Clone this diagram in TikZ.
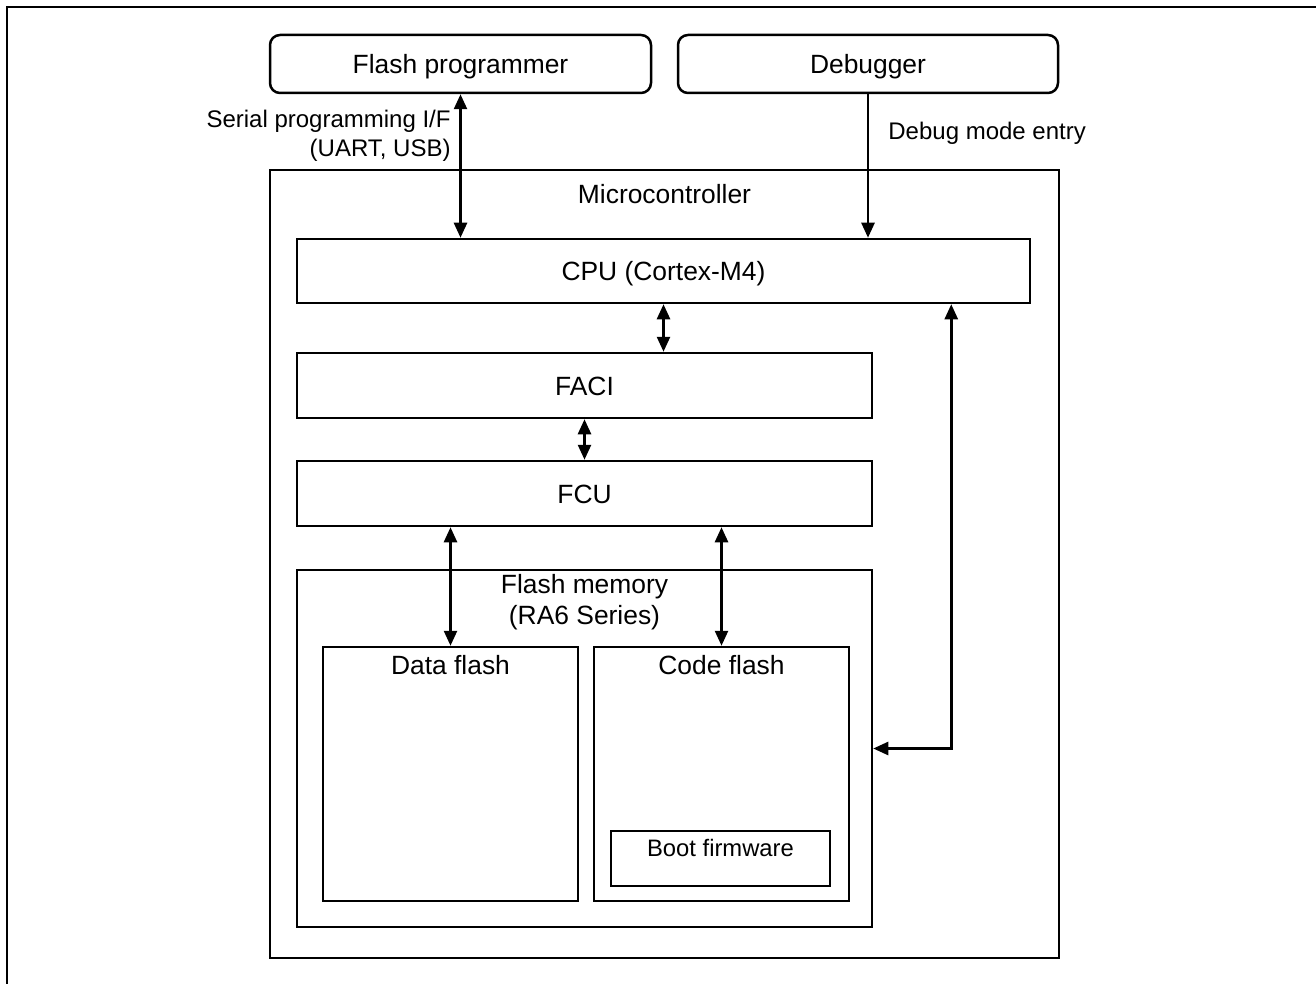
\documentclass[tikz,border=0pt]{standalone}
\usepackage{fontspec}
\setmainfont{Liberation Sans}
\usepackage{tikz}
\usetikzlibrary{arrows.meta}
\tikzset{>={Triangle[width=6.5pt,length=7.5pt]}}
\tikzstyle{blk} = [rectangle, draw=black, line width=1.25pt, inner sep=0pt, text height=9.5pt, text depth=0pt, font=\fontsize{13.2}{15.5}\selectfont]
\tikzstyle{ttl} = [anchor=center, inner sep=0pt, align=center, font=\fontsize{13.2}{15.5}\selectfont]
\tikzstyle{side} = [inner sep=0pt, font=\fontsize{12}{14.5}\selectfont]
\tikzstyle{lnk} = [<->, line width=1.25pt]

\begin{document}
\begin{tikzpicture}[x=0.5pt, y=-0.5pt]
\useasboundingbox (0,0) rectangle (1316,984);
\draw [line width=1.4pt] (7,984) -- (7,7) -- (1316,7);
\node [blk, rounded corners=5pt, minimum width=190.5pt, minimum height=29pt] (prog) at (460.5,64) {Flash programmer};
\node [blk, rounded corners=5pt, minimum width=190pt, minimum height=29pt] (dbg) at (868,64) {Debugger};
\node [blk, minimum width=394.5pt, minimum height=394pt, label={[ttl, yshift=-12.5pt]north:Microcontroller}] (mcu) at (664.5,564) {};
\node [blk, minimum width=366.5pt, minimum height=32pt] (cpu) at (663.5,271) {CPU (Cortex-M4)};
\node [blk, minimum width=287.5pt, minimum height=32.5pt] (faci) at (584.5,385.5) {FACI};
\node [blk, minimum width=287.5pt, minimum height=32.5pt] (fcu) at (584.5,493.5) {FCU};
\node [blk, minimum width=287.5pt, minimum height=178.5pt, label={[ttl, yshift=-16.75pt]north:Flash memory\\(RA6 Series)}] (fmem) at (584.5,748.5) {};
\node [blk, minimum width=127.5pt, minimum height=127pt, label={[ttl, yshift=-9.5pt]north:Data flash}] (dflash) at (450.5,774) {};
\node [blk, minimum width=127.5pt, minimum height=127pt, label={[ttl, yshift=-9.5pt]north:Code flash}] (cflash) at (721.5,774) {};
\node [blk, minimum width=109.5pt, minimum height=27.5pt, label={[ttl, yshift=-9pt, font=\fontsize{11.9}{14}\selectfont]north:Boot firmware}] (boot) at (720.5,858.5) {};
% side texts
\node [side, anchor=east, align=right] (serlbl) at (451,136) {Serial programming I/F\\(UART, USB)};
\node [side, anchor=west] (dbglbl) at (888,133) {Debug mode entry};
% connections
\draw [lnk] (prog.south) -- (prog.south |- cpu.north);
\draw [->, line width=1.25pt] (dbg.south) -- (dbg.south |- cpu.north);
\draw [lnk] (cpu.south) -- (cpu.south |- faci.north);
\draw [lnk] (faci.south) -- (fcu.north);
\draw [lnk] (fcu.south -| dflash.north) -- (dflash.north);
\draw [lnk] (fcu.south -| cflash.north) -- (cflash.north);
\draw [lnk] ([xshift=-40pt]cpu.south east) |- (fmem.east);
\end{tikzpicture}
\end{document}
